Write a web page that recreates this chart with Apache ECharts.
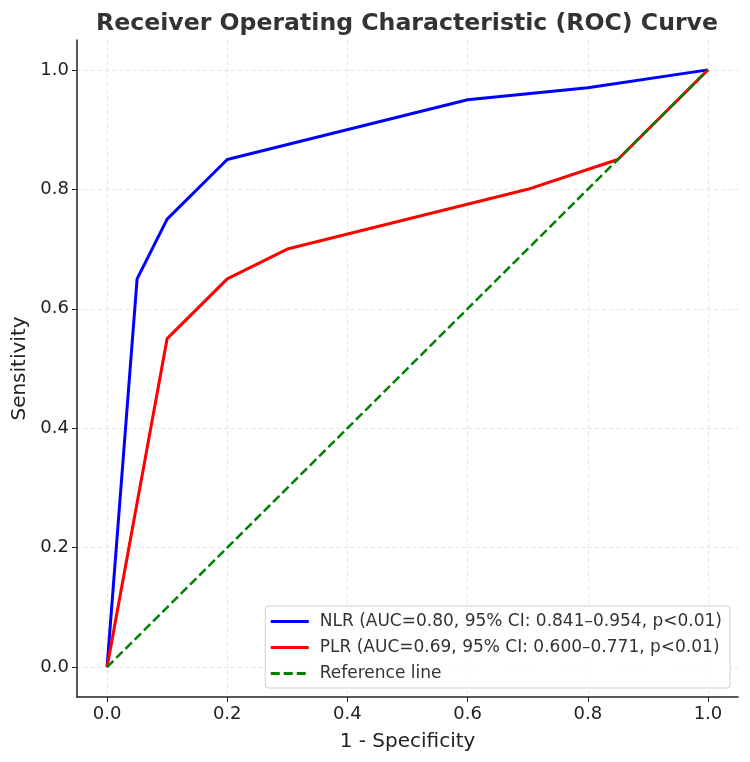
<!DOCTYPE html>
<html>

<head>
    <meta charset="utf-8">
    <title>ROC Curve</title>
    <script src="https://cdn.jsdelivr.net/npm/echarts@6/dist/echarts.min.js"></script>
</head>

<body style="margin:0">
    <div id="main" style="width: 750px;height:762px;"></div>
    <script type="text/javascript">
        // data: [1 - specificity, sensitivity]
        var nlrPoints = [[0, 0], [0.05, 0.65], [0.1, 0.75], [0.2, 0.85], [0.6, 0.95], [0.8, 0.97], [1, 1]];
        var plrPoints = [[0, 0], [0.1, 0.55], [0.2, 0.65], [0.3, 0.7], [0.7, 0.8], [0.85, 0.85], [1, 1]];
        var refPoints = [[0, 0], [1, 1]];
        var tickValues = [0, 0.2, 0.4, 0.6, 0.8, 1.0];
        var seriesNames = [
            'NLR (AUC=0.80, 95% CI: 0.841–0.954, p<0.01)',
            'PLR (AUC=0.69, 95% CI: 0.600–0.771, p<0.01)',
            'Reference line'
        ];

        var font = 'DejaVu Sans';

        function axisCommon(name) {
            return {
                type: 'value',
                min: -0.05,
                max: 1.05,
                name: name,
                nameLocation: 'middle',
                nameTextStyle: { fontFamily: font, fontSize: 20, color: '#222' },
                axisLine: { show: true, onZero: false, lineStyle: { color: '#222', width: 1.5 } },
                axisTick: { show: true, inside: false, length: 5, customValues: tickValues, lineStyle: { color: '#222' } },
                axisLabel: {
                    customValues: tickValues,
                    fontFamily: font, fontSize: 18, color: '#222', margin: 8,
                    formatter: function (v) { return v.toFixed(1); }
                },
                splitLine: { show: true, lineStyle: { color: '#e6e6e6', type: [4, 3], width: 1 } }
            };
        }

        var myChart = echarts.init(document.getElementById('main'));

        var xAxis = axisCommon('1 - Specificity');
        xAxis.nameGap = 35;
        var yAxis = axisCommon('Sensitivity');
        yAxis.nameGap = 42;

        myChart.setOption({
            animation: false,
            backgroundColor: '#fff',
            title: {
                text: 'Receiver Operating Characteristic (ROC) Curve',
                left: 402,
                textAlign: 'center',
                top: 7,
                textStyle: { fontFamily: font, fontSize: 23.6, fontWeight: 'bold', color: '#333' }
            },
            grid: { left: 77, right: 12, top: 40, bottom: 65, containLabel: false },
            legend: {
                orient: 'vertical',
                right: 20,
                bottom: 74,
                itemWidth: 38,
                itemHeight: 14,
                itemGap: 9,
                padding: [7, 8, 6, 4],
                borderColor: '#d0d0d0',
                borderWidth: 1,
                borderRadius: 3,
                backgroundColor: 'rgba(255,255,255,0.85)',
                itemStyle: { opacity: 0 },
                lineStyle: { width: 3 },
                textStyle: { fontFamily: font, fontSize: 17, color: '#333', padding: [0, 0, 0, 6] },
                data: seriesNames
            },
            xAxis: xAxis,
            yAxis: yAxis,
            series: [
                {
                    name: seriesNames[0],
                    type: 'line',
                    data: nlrPoints,
                    symbol: 'none',
                    color: '#0000ff',
                    lineStyle: { width: 3, color: '#0000ff' }
                },
                {
                    name: seriesNames[1],
                    type: 'line',
                    data: plrPoints,
                    symbol: 'none',
                    color: '#ff0000',
                    lineStyle: { width: 3, color: '#ff0000' }
                },
                {
                    name: seriesNames[2],
                    type: 'line',
                    data: refPoints,
                    symbol: 'none',
                    color: '#008000',
                    lineStyle: { width: 2.5, color: '#008000', type: [9, 4] }
                }
            ]
        });
    </script>
</body>

</html>
